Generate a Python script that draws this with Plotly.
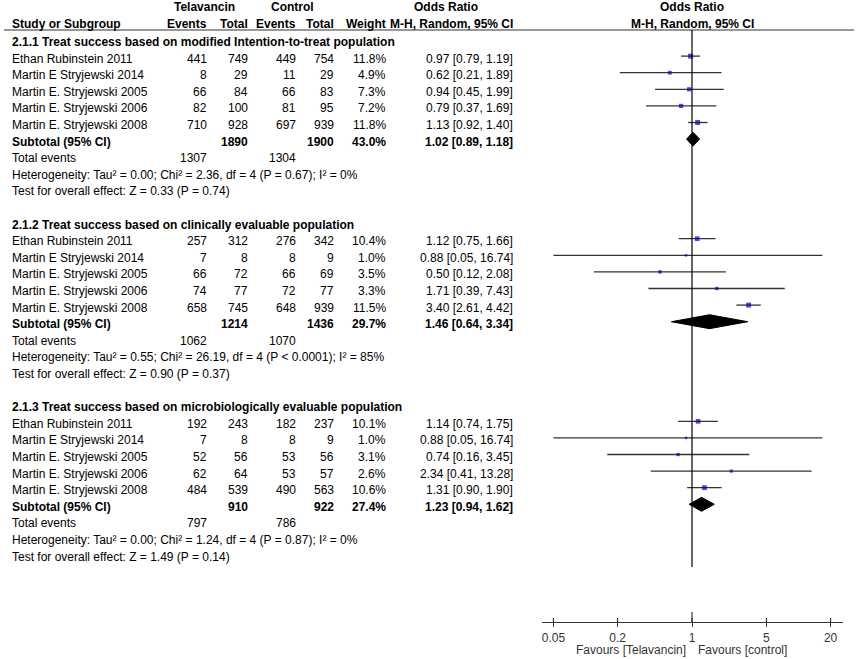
import plotly.graph_objects as go

# data
sections = [
    "2.1.1 Treat success based on modified Intention-to-treat population",
    "2.1.2 Treat success based on clinically evaluable population",
    "2.1.3 Treat success based on microbiologically evaluable population",
]
studies = ["Ethan Rubinstein 2011", "Martin E Stryjewski 2014", "Martin E. Stryjewski 2005",
           "Martin E. Stryjewski 2006", "Martin E. Stryjewski 2008"]

tel_events = [[441, 8, 66, 82, 710], [257, 7, 66, 74, 658], [192, 7, 52, 62, 484]]
tel_total = [[749, 29, 84, 100, 928], [312, 8, 72, 77, 745], [243, 8, 56, 64, 539]]
ctl_events = [[449, 11, 66, 81, 697], [276, 8, 66, 72, 648], [182, 8, 53, 53, 490]]
ctl_total = [[754, 29, 83, 95, 939], [342, 9, 69, 77, 939], [237, 9, 56, 57, 563]]
weights = [[11.8, 4.9, 7.3, 7.2, 11.8], [10.4, 1.0, 3.5, 3.3, 11.5], [10.1, 1.0, 3.1, 2.6, 10.6]]
odds = [[0.97, 0.62, 0.94, 0.79, 1.13], [1.12, 0.88, 0.50, 1.71, 3.40], [1.14, 0.88, 0.74, 2.34, 1.31]]
ci_low = [[0.79, 0.21, 0.45, 0.37, 0.92], [0.75, 0.05, 0.12, 0.39, 2.61], [0.74, 0.05, 0.16, 0.41, 0.90]]
ci_high = [[1.19, 1.89, 1.99, 1.69, 1.40], [1.66, 16.74, 2.08, 7.43, 4.42], [1.75, 16.74, 3.45, 13.28, 1.90]]

sub_tel_total = [1890, 1214, 910]
sub_ctl_total = [1900, 1436, 922]
sub_weight = [43.0, 29.7, 27.4]
sub_or = [1.02, 1.46, 1.23]
sub_low = [0.89, 0.64, 0.94]
sub_high = [1.18, 3.34, 1.62]
tot_tel_events = [1307, 1062, 797]
tot_ctl_events = [1304, 1070, 786]
tau2 = ["0.00", "0.55", "0.00"]
chi2 = ["2.36", "26.19", "1.24"]
het_df = [4, 4, 4]
het_p = ["P = 0.67", "P < 0.0001", "P = 0.87"]
i2 = [0, 85, 0]
z_val = ["0.33", "0.90", "1.49"]
z_p = ["0.74", "0.37", "0.14"]

tick_vals = [0.05, 0.2, 1, 5, 20]
tick_text = ["0.05", "0.2", "1", "5", "20"]

W, H = 856, 659
FONT = "Liberation Sans, Arial, sans-serif"
ROW0, STEP = 42, 16.6  # pixel centre of first row, row height
AXIS_Y = 622


def px(x):
    return x / W


def py(p):
    return 1 - p / H


def row_of(p):
    return (p - ROW0) / STEP


fig = go.Figure()
ann = []


def txt(x, r, s, anchor="right", bold=False, color="black", paper_y=None, yanchor="middle"):
    if bold:
        s = "<b>" + s + "</b>"
    a = dict(x=px(x), y=r, xref="paper", yref="y", text=s, showarrow=False, borderpad=0,
             xanchor=anchor, yanchor=yanchor, font=dict(family=FONT, size=12, color=color))
    if paper_y is not None:
        a.update(y=py(paper_y), yref="paper")
    ann.append(a)


# column headers
txt(204, 0, "Telavancin", "center", True, paper_y=7)
txt(292, 0, "Control", "center", True, paper_y=7)
txt(446, 0, "Odds Ratio", "center", True, paper_y=7)
txt(692, 0, "Odds Ratio", "center", True, paper_y=7)
txt(11, 0, "Study or Subgroup", "left", True, paper_y=24)
for x, s in [(208, "Events"), (249, "Total"), (297, "Events"), (335, "Total"), (387, "Weight"),
             (514, "M-H, Random, 95% CI")]:
    txt(x, 0, s, "right", True, paper_y=24)
txt(692, 0, "M-H, Random, 95% CI", "center", True, paper_y=24)

lx, ly, sqx, sqy, sqs = [], [], [], [], []
for k in range(3):
    base = 11 * k
    txt(11, base, sections[k], "left", True)
    for i in range(5):
        r = base + 1 + i
        txt(11, r, studies[i], "left")
        txt(208, r, str(tel_events[k][i]))
        txt(249, r, str(tel_total[k][i]))
        txt(297, r, str(ctl_events[k][i]))
        txt(335, r, str(ctl_total[k][i]))
        txt(387, r, f"{weights[k][i]:.1f}%")
        txt(514, r, f"{odds[k][i]:.2f} [{ci_low[k][i]:.2f}, {ci_high[k][i]:.2f}]")
        lx += [ci_low[k][i], ci_high[k][i], None]
        ly += [r - 0.15, r - 0.15, None]
        sqx.append(odds[k][i])
        sqy.append(r - 0.15)
        sqs.append(1.5 + weights[k][i] ** 0.5)
    r = base + 6
    txt(11, r, "Subtotal (95% CI)", "left", True)
    txt(249, r, str(sub_tel_total[k]), bold=True)
    txt(335, r, str(sub_ctl_total[k]), bold=True)
    txt(387, r, f"{sub_weight[k]:.1f}%", bold=True)
    txt(514, r, f"{sub_or[k]:.2f} [{sub_low[k]:.2f}, {sub_high[k]:.2f}]", bold=True)
    fig.add_trace(go.Scatter(
        x=[sub_low[k], sub_or[k], sub_high[k], sub_or[k], sub_low[k]],
        y=[r - 0.15, r - 0.57, r - 0.15, r + 0.27, r - 0.15],
        mode="lines", fill="toself", fillcolor="black", line=dict(color="black", width=1),
        hoverinfo="skip"))
    txt(11, base + 7, "Total events", "left")
    txt(208, base + 7, str(tot_tel_events[k]))
    txt(297, base + 7, str(tot_ctl_events[k]))
    txt(11, base + 8, f"Heterogeneity: Tau\u00b2 = {tau2[k]}; Chi\u00b2 = {chi2[k]}, df = {het_df[k]} "
                      f"({het_p[k]}); I\u00b2 = {i2[k]}%", "left")
    txt(11, base + 9, f"Test for overall effect: Z = {z_val[k]} (P = {z_p[k]})", "left")

fig.add_trace(go.Scatter(x=lx, y=ly, mode="lines", line=dict(color="#333333", width=1.3),
                         hoverinfo="skip"))
fig.add_trace(go.Scatter(x=sqx, y=sqy, mode="markers", hoverinfo="skip",
                         marker=dict(symbol="square", size=sqs, color="#0000cc",
                                     line=dict(width=0))))

# favours labels under the axis
txt(687, 0, "Favours [Telavancin]", "right", color="#333333", paper_y=642, yanchor="top")
txt(697, 0, "Favours [control]", "left", color="#333333", paper_y=642, yanchor="top")

shapes = [
    dict(type="line", xref="paper", yref="paper", x0=px(4), x1=px(854), y0=py(30), y1=py(30),
         line=dict(color="#333333", width=1.2)),
    dict(type="line", xref="x", yref="paper", x0=1, x1=1, y0=py(30), y1=py(567),
         line=dict(color="black", width=1.2)),
    dict(type="line", xref="x", yref="paper", x0=1, x1=1, y0=py(612), y1=py(AXIS_Y),
         line=dict(color="#333333", width=1.2)),
]
for t in tick_vals:
    shapes.append(dict(type="line", xref="x", yref="paper", x0=t, x1=t, y0=py(618), y1=py(AXIS_Y),
                       line=dict(color="#333333", width=1.2)))

fig.update_layout(
    width=W, height=H, margin=dict(l=0, r=0, t=0, b=0),
    paper_bgcolor="white", plot_bgcolor="white", showlegend=False,
    annotations=ann, shapes=shapes,
    xaxis=dict(type="log", domain=[px(542), px(843)], range=[(542 - 692) / 106.5, (843 - 692) / 106.5],
               showgrid=False, zeroline=False, showline=True, linecolor="#333333", linewidth=1.2,
               ticks="outside", ticklen=4, tickwidth=1.2, tickcolor="#333333",
               tickvals=tick_vals, ticktext=tick_text,
               tickfont=dict(family=FONT, size=12, color="#333333")),
    yaxis=dict(domain=[py(AXIS_Y), 1], range=[row_of(AXIS_Y), row_of(0)],
               showgrid=False, zeroline=False, showticklabels=False, showline=False),
)

# the page body has a default 8px margin; drop it so the figure fills the window
fig.write_html("out.html", config={"displayModeBar": False},
               post_script="document.body.style.margin = '0';")
